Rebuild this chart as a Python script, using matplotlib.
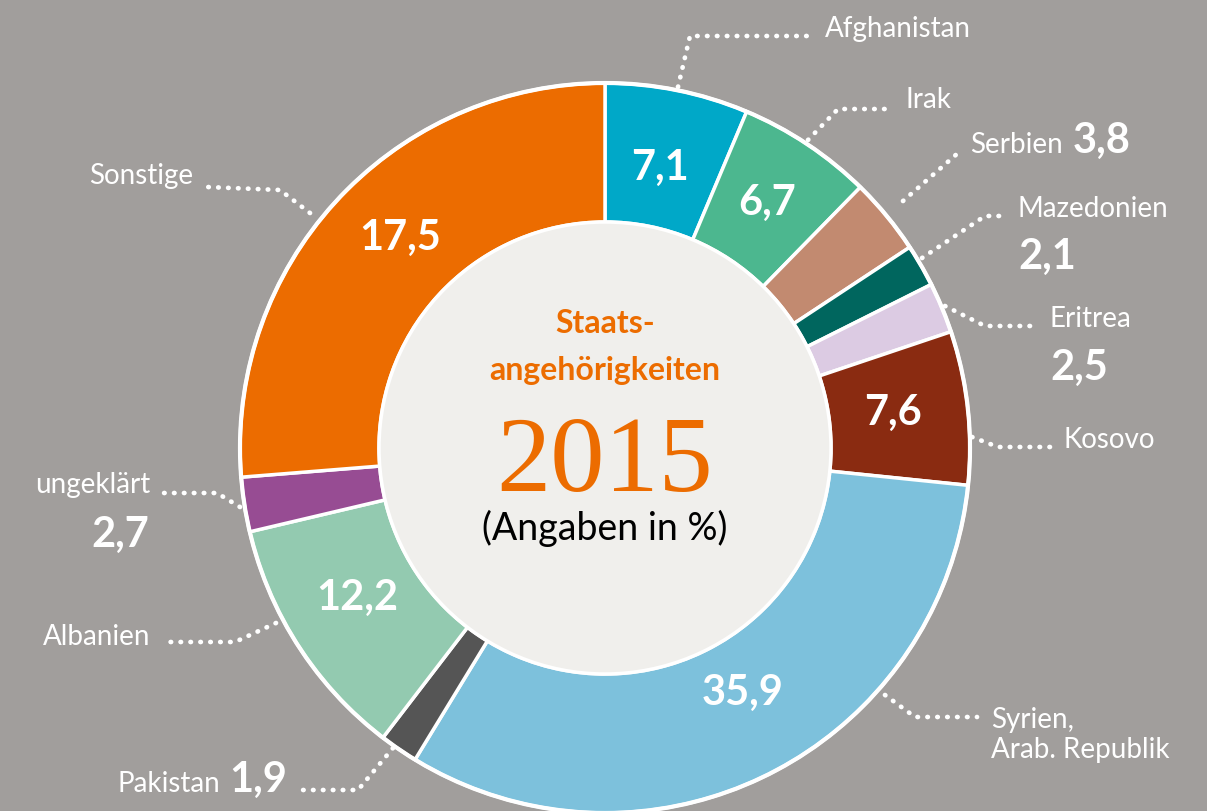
import matplotlib.pyplot as plt
from matplotlib.patches import Circle

# Staatsangehörigkeiten 2015 (Angaben in %)
countries = ["Afghanistan", "Irak", "Serbien", "Mazedonien", "Eritrea", "Kosovo",
             "Syrien,\nArab. Republik", "Pakistan", "Albanien", "ungeklärt", "Sonstige"]
shares = [7.1, 6.7, 3.8, 2.1, 2.5, 7.6, 35.9, 1.9, 12.2, 2.7, 17.5]
# slice sizes as drawn in the original graphic (the "Sonstige" slice is drawn
# much wider than its 17,5 label, about 29,4 on the same scale)
slice_sizes = [7.1, 6.7, 3.8, 2.1, 2.5, 7.6, 35.9, 1.9, 12.2, 2.7, 29.4]
colors = ["#00a8c8", "#4cb78f", "#c28a70", "#00665e", "#dccbe3", "#8a2b11",
          "#7dc1dc", "#555555", "#93cab0", "#974c93", "#ec6c00"]

BG = "#a19e9c"
ORANGE = "#ec6c00"
SANS = ["Lato", "DejaVu Sans"]

W, H = 1207, 811
cx, cy = 605, 448
r_out, r_in = 365, 226


def fmt(v):
    return f"{v:.1f}".replace(".", ",")


fig = plt.figure(figsize=(W / 100, H / 100), dpi=100)
fig.patch.set_facecolor(BG)
ax = fig.add_axes([0, 0, 1, 1])
ax.set_facecolor(BG)

# y axis runs downward (pixel style), so counterclock in data = clockwise on screen
wedges, _ = ax.pie(slice_sizes, colors=colors, startangle=-90, counterclock=True,
                   radius=r_out, center=(cx, cy),
                   wedgeprops=dict(width=r_out - r_in, edgecolor="white", linewidth=2.5))
ax.add_patch(Circle((cx, cy), r_out, fill=False, edgecolor="white", linewidth=3, zorder=3))
ax.add_patch(Circle((cx, cy), r_in, facecolor="#f0efec", edgecolor="white", linewidth=2.5, zorder=3))

ax.set_xlim(0, W)
ax.set_ylim(H, 0)
ax.set_aspect("auto")
ax.axis("off")

# values inside the ring (pixel positions of label centre / baseline)
inner_pos = {0: (660, 180), 1: (767, 215), 5: (893, 425), 6: (743, 705),
             8: (357, 610), 10: (400, 250)}
for i, (x, y) in inner_pos.items():
    ax.text(x, y, fmt(shares[i]), color="white", fontsize=30, fontweight="bold",
            family=SANS, ha="center", va="baseline", zorder=5)

# outside labels: name position, optional value position, leader line
name_pos = {0: (825, 37, "left"), 1: (905, 108, "left"), 2: (970, 153, "left"),
            3: (1018, 217, "left"), 4: (1050, 327, "left"), 5: (1063, 448, "left"),
            6: (991, 758, "left"), 7: (220, 792, "right"), 8: (150, 645, "right"),
            9: (150, 493, "right"), 10: (193, 184, "right")}
value_pos = {2: (1073, 153, "left"), 3: (1018, 269, "left"), 4: (1050, 380, "left"),
             7: (287, 792, "right"), 9: (149, 547, "right")}
leaders = {0: [(678, 87), (690, 36), (812, 36)],
           1: [(808, 140), (838, 109), (893, 109)],
           2: [(903, 201), (958, 153)],
           3: [(922, 258), (985, 216), (1005, 216)],
           4: [(945, 306), (985, 326), (1038, 326)],
           5: [(972, 437), (998, 447), (1052, 447)],
           6: [(885, 695), (915, 717), (977, 717)],
           7: [(393, 748), (358, 790), (295, 790)],
           8: [(276, 623), (235, 642), (163, 642)],
           9: [(240, 507), (217, 493), (163, 493)],
           10: [(310, 213), (280, 190), (207, 187)]}

for i, (x, y, ha) in name_pos.items():
    ax.text(x, y, countries[i], color="white", fontsize=20, family=SANS,
            ha=ha, va="baseline", linespacing=1.2, zorder=5)
for i, (x, y, ha) in value_pos.items():
    ax.text(x, y, fmt(shares[i]), color="white", fontsize=30, fontweight="bold",
            family=SANS, ha=ha, va="baseline", zorder=5)
for i, pts in leaders.items():
    xs, ys = zip(*pts)
    ax.plot(xs, ys, color="white", linewidth=3.4, linestyle=(0, (0.1, 2.0)),
            dash_capstyle="round", solid_capstyle="round", zorder=4)

# centre caption
ax.text(cx, 333, "Staats-", color=ORANGE, fontsize=23, fontweight="bold",
        family=SANS, ha="center", va="baseline", zorder=5)
ax.text(cx, 380, "angehörigkeiten", color=ORANGE, fontsize=23, fontweight="bold",
        family=SANS, ha="center", va="baseline", zorder=5)
ax.text(cx, 491, "2015", color=ORANGE, fontsize=78,
        family=["Liberation Serif", "DejaVu Serif"], ha="center", va="baseline", zorder=5)
ax.text(cx, 540, "(Angaben in %)", color="black", fontsize=27,
        family=SANS, ha="center", va="baseline", zorder=5)

fig.savefig("out.png", dpi=100, facecolor=BG)
